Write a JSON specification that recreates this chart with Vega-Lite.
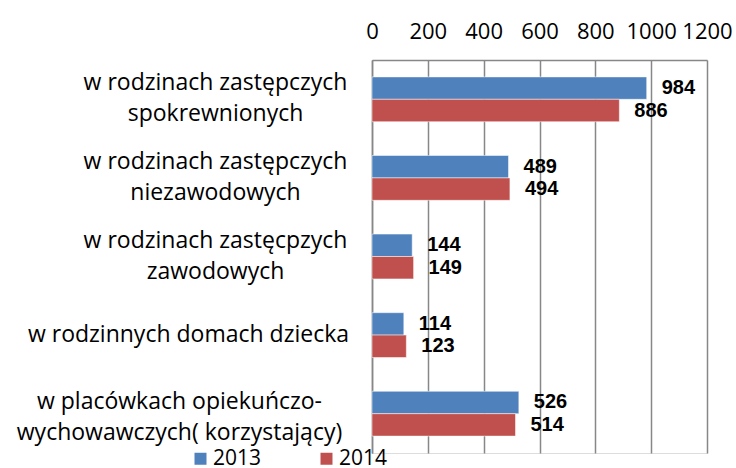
{
  "$schema": "https://vega.github.io/schema/vega-lite/v6.json",
  "width": 335,
  "height": 393,
  "autosize": {"type": "none"},
  "padding": {"left": 372, "top": 60, "right": 29, "bottom": 15},
  "background": "white",
  "data": {
    "values": [
      {"cat": "w rodzinach zastępczych|spokrewnionych", "year": "2013", "value": 984},
      {"cat": "w rodzinach zastępczych|spokrewnionych", "year": "2014", "value": 886},
      {"cat": "w rodzinach zastępczych|niezawodowych", "year": "2013", "value": 489},
      {"cat": "w rodzinach zastępczych|niezawodowych", "year": "2014", "value": 494},
      {"cat": "w rodzinach zastęcpzych|zawodowych", "year": "2013", "value": 144},
      {"cat": "w rodzinach zastęcpzych|zawodowych", "year": "2014", "value": 149},
      {"cat": "w rodzinnych domach dziecka", "year": "2013", "value": 114},
      {"cat": "w rodzinnych domach dziecka", "year": "2014", "value": 123},
      {"cat": "w placówkach opiekuńczo-|wychowawczych( korzystający)", "year": "2013", "value": 526},
      {"cat": "w placówkach opiekuńczo-|wychowawczych( korzystający)", "year": "2014", "value": 514}
    ]
  },
  "encoding": {
    "y": {
      "field": "cat",
      "type": "nominal",
      "sort": null,
      "scale": {"paddingInner": 0.43, "paddingOuter": 0.215},
      "axis": {
        "title": null,
        "labelExpr": "split(datum.label, '|')",
        "labelAlign": "center",
        "labelBaseline": "middle",
        "labelPadding": {
          "condition": [
            {"test": "indexof(datum.value, 'domach') > 0", "value": 184},
            {"test": "indexof(datum.value, 'placówkach') >= 0", "value": 193}
          ],
          "value": 157
        },
        "labelOffset": {
          "condition": [
            {"test": "indexof(datum.value, 'placówkach') >= 0", "value": -12},
            {"test": "indexof(datum.value, '|') >= 0", "value": -16}
          ],
          "value": 0
        },
        "labelLineHeight": 31,
        "labelFont": "Open Sans",
        "labelFontSize": 23,
        "labelColor": "black",
        "labelLimit": 400,
        "ticks": false,
        "domain": true,
        "domainColor": "#878787",
        "domainWidth": 1.5
      }
    },
    "yOffset": {"field": "year", "type": "nominal"},
    "x": {
      "field": "value",
      "type": "quantitative",
      "scale": {"domain": [0, 1200], "nice": false},
      "axis": {
        "orient": "top",
        "title": null,
        "values": [0, 200, 400, 600, 800, 1000, 1200],
        "format": "d",
        "labelFont": "Open Sans",
        "labelFontSize": 22,
        "labelColor": "black",
        "labelPadding": 17,
        "labelOverlap": false,
        "labelFlush": false,
        "ticks": false,
        "domain": true,
        "domainColor": "#878787",
        "domainWidth": 1.5,
        "grid": true,
        "gridColor": "#878787",
        "gridWidth": 1.5
      }
    }
  },
  "layer": [
    {
      "mark": {"type": "bar", "stroke": "white", "strokeWidth": 0.5},
      "encoding": {
        "color": {
          "field": "year",
          "type": "nominal",
          "scale": {"domain": ["2013", "2014"], "range": ["#4F81BD", "#C0504D"]},
          "legend": {
            "title": null,
            "orient": "none",
            "direction": "horizontal",
            "legendX": -182,
            "legendY": 388,
            "symbolType": "square",
            "symbolSize": 144,
            "symbolStrokeWidth": 0,
            "symbolOpacity": 1,
            "labelFont": "Open Sans",
            "labelFontSize": 21,
            "labelColor": "black",
            "columnPadding": 54,
            "labelOffset": 2
          }
        }
      }
    },
    {
      "mark": {"type": "text", "align": "left", "baseline": "middle", "dx": 15, "font": "Liberation Sans", "fontWeight": "bold", "fontSize": 20, "color": "black"},
      "encoding": {"text": {"field": "value", "type": "quantitative"}}
    }
  ]
}
